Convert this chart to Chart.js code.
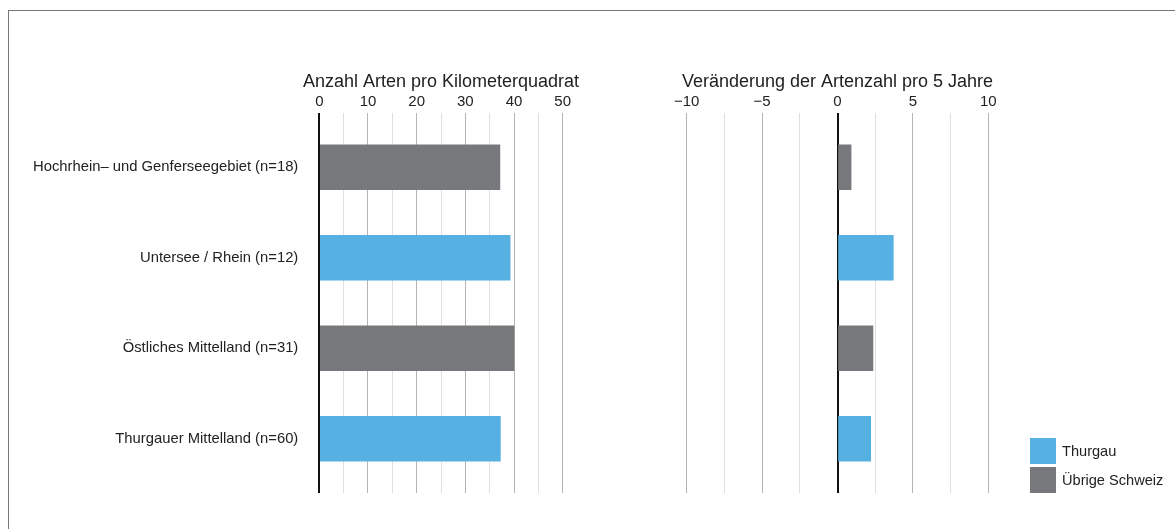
<!DOCTYPE html>
<html><head><meta charset="utf-8">
<script src="https://cdn.jsdelivr.net/npm/chart.js@4"></script>
<style>
html,body{margin:0;padding:0;background:#fff;width:1175px;height:529px;overflow:hidden;position:relative;font-family:"Liberation Sans",Arial,sans-serif;}
#frame{position:absolute;left:8px;top:10px;width:1180px;height:540px;border:1.5px solid #777;box-sizing:border-box;}
#c1{position:absolute;left:0;top:0;}
#c2{position:absolute;left:600px;top:0;}
.sw{position:absolute;left:1030px;width:26px;height:26px;}
.lt{position:absolute;left:1062px;font-size:14.6px;color:#222;line-height:26px;white-space:nowrap;}
</style></head>
<body>
<div id="frame"></div>
<canvas id="c1" width="882" height="529"></canvas>
<canvas id="c2" width="475" height="529"></canvas>
<div id="legend"></div>
<script>
const categories = ["Hochrhein\u2013 und Genferseegebiet (n=18)", "Untersee / Rhein (n=12)", "\u00d6stliches Mittelland (n=31)", "Thurgauer Mittelland (n=60)"];
const region = ["\u00dcbrige Schweiz", "Thurgau", "\u00dcbrige Schweiz", "Thurgau"];
const speciesPerKm2 = [37.1, 39.2, 40.0, 37.2];
const changePer5Years = [0.9, 3.7, 2.35, 2.2];
const seriesNames = ["Thurgau", "\u00dcbrige Schweiz"];
const seriesColors = ["#56b0e2", "#77787b"];
const leftTickLabels = [0, 10, 20, 30, 40, 50];
const rightTickLabels = [-10, -5, 0, 5, 10];
const leftTitle = "Anzahl Arten pro Kilometerquadrat";
const rightTitle = "Ver\u00e4nderung der Artenzahl pro 5 Jahre";

const FONT = '"Liberation Sans", Arial, sans-serif';
const TXT = '#222';

function buildDatasets(values) {
  return seriesNames.map((name, s) => ({
    label: name,
    data: categories.map((c, i) => region[i] === name ? {x: values[i], y: i} : null).filter(Boolean),
    backgroundColor: seriesColors[s],
    barThickness: 45,
    grouped: false
  }));
}
function fmt(v) { return v < 0 ? '\u2212' + Math.abs(v) : String(v); }

function makeChart(id, values, min, max, step, tickLabels, title, showY, leftW, rightW, majorFn) {
  return new Chart(document.getElementById(id), {
    type: 'bar',
    data: { datasets: buildDatasets(values) },
    options: {
      indexAxis: 'y',
      responsive: false,
      animation: false,
      devicePixelRatio: 1,
      layout: { padding: { left: 0, right: 0, top: 0, bottom: 36 } },
      plugins: {
        legend: { display: false }, tooltip: { enabled: false },
        title: { display: true, text: title, color: TXT, font: { family: FONT, size: 18, weight: 'normal' },
                 padding: { top: 71.5, bottom: 0 } }
      },
      scales: {
        x: {
          type: 'linear', position: 'top', min: min, max: max,
          ticks: { stepSize: step, autoSkip: false, maxRotation: 0, padding: 2.5, color: TXT,
                   font: { family: FONT, size: 15 },
                   callback: v => tickLabels.includes(v) ? fmt(v) : '' },
          grid: { drawTicks: false,
                  color: ctx => { const v = ctx.tick.value; return v === 0 ? '#111' : (majorFn(v) ? '#b4b4b4' : '#e0e0e0'); },
                  lineWidth: ctx => ctx.tick.value === 0 ? 2 : 1 },
          border: { display: false },
          afterFit: s => { s.height = 19.9; }
        },
        y: {
          type: 'linear', min: -0.6, max: 3.6, reverse: true, offset: false, display: showY,
          grid: { display: false, drawTicks: false },
          border: { display: false },
          afterBuildTicks: s => { s.ticks = categories.map((c, i) => ({ value: i })); },
          ticks: { autoSkip: false, padding: 21, color: TXT, font: { family: FONT, size: 14.8 },
                   callback: v => categories[v] },
          afterFit: s => { s.width = leftW; }
        },
        y2: {
          type: 'linear', position: 'right', display: false,
          afterFit: s => { s.width = rightW; }
        }
      }
    }
  });
}

makeChart('c1', speciesPerKm2, 0, 50, 5, leftTickLabels, leftTitle, true, 319.3, 319.3, v => v % 10 === 0);
makeChart('c2', changePer5Years, -10, 10, 2.5, rightTickLabels, rightTitle, false, 86.7, 86.7, v => v % 5 === 0);

const lg = document.getElementById('legend');
seriesNames.forEach((name, s) => {
  const top = 438 + s * 29;
  const sw = document.createElement('div');
  sw.className = 'sw'; sw.style.top = top + 'px'; sw.style.background = seriesColors[s];
  const t = document.createElement('div');
  t.className = 'lt'; t.style.top = top + 'px'; t.textContent = name;
  lg.appendChild(sw); lg.appendChild(t);
});
</script>
</body></html>
